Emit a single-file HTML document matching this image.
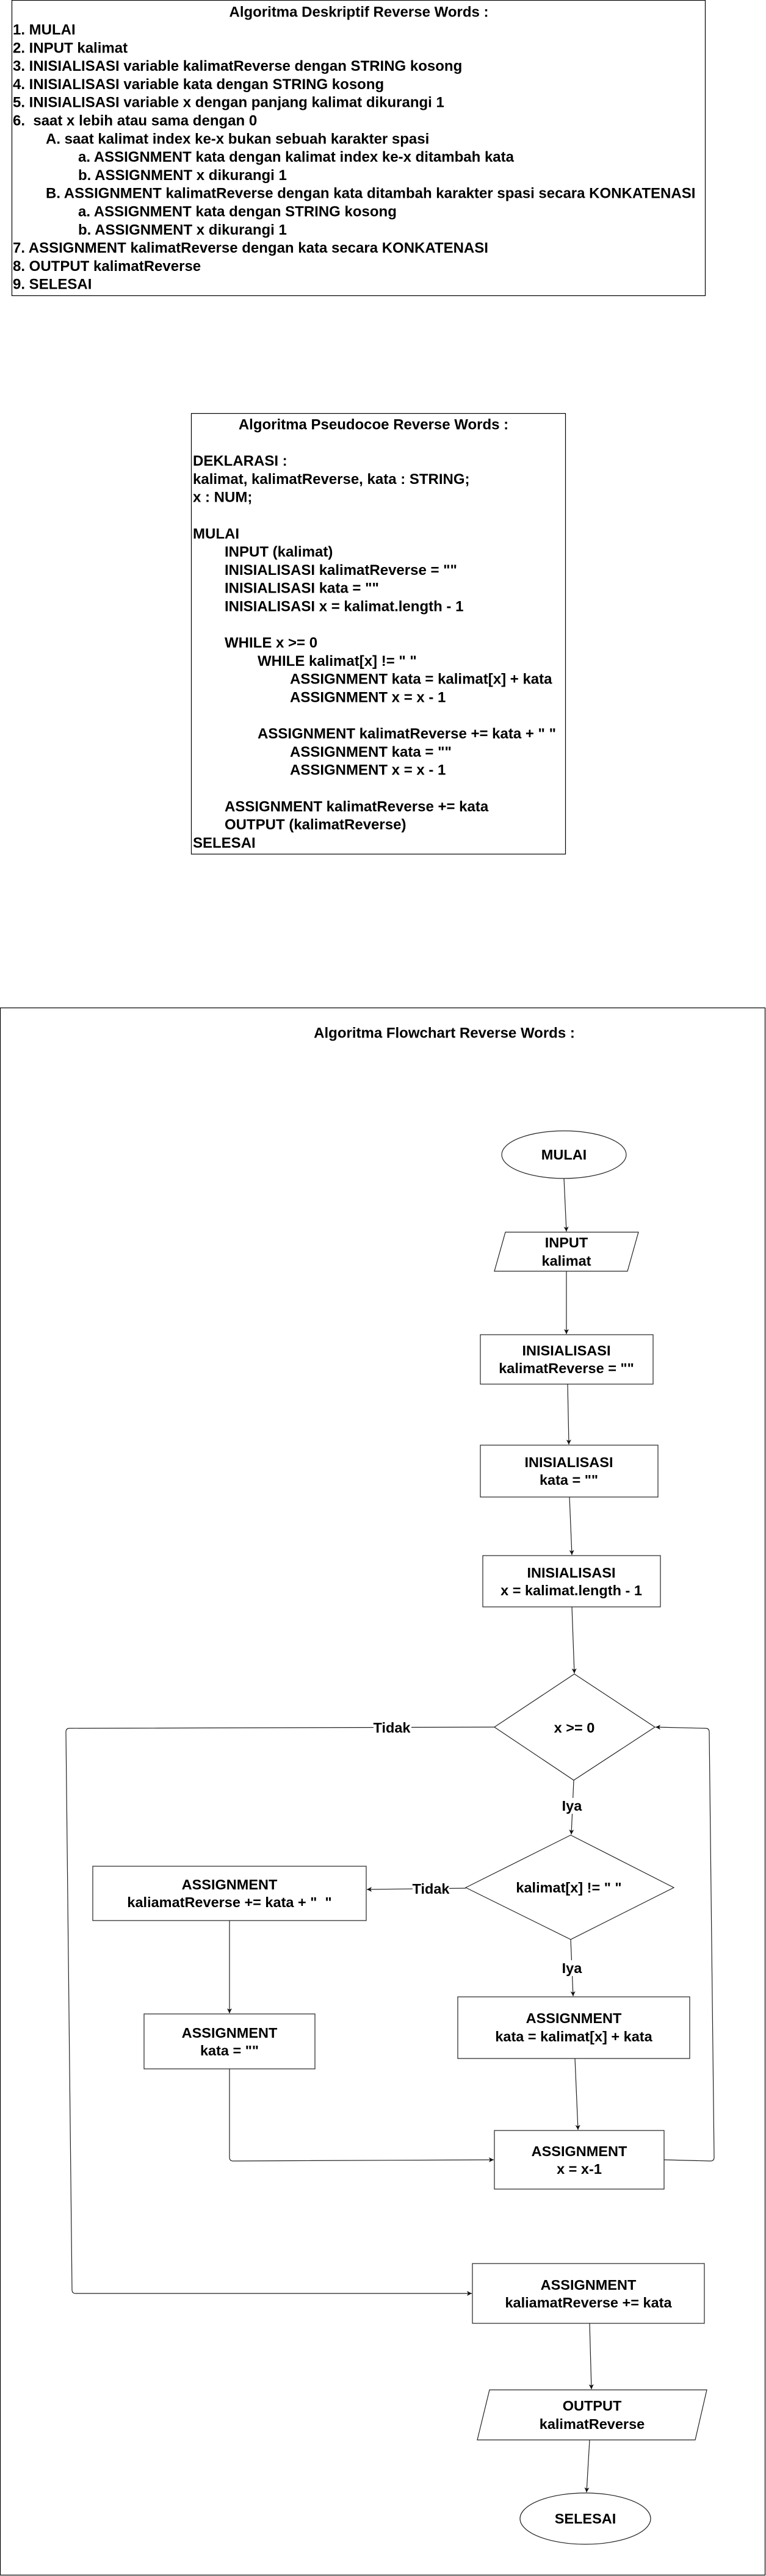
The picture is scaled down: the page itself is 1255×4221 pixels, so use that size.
<!DOCTYPE html>
<html><head><meta charset="utf-8"><style>
html,body{margin:0;padding:0;background:#fff}
svg{display:block}
text{font-family:"Liberation Sans",Arial,sans-serif;font-weight:bold;fill:#000}
</style></head><body>
<svg width="1255" height="4221" viewBox="0 0 1255 4221" xmlns="http://www.w3.org/2000/svg">
<defs>
<marker id="a" markerWidth="10" markerHeight="10" refX="9" refY="5" orient="auto" markerUnits="userSpaceOnUse">
<path d="M1,1 L9,5 L1,9 L3,5 Z" fill="#111"/>
</marker>
</defs>
<rect width="1255" height="4221" fill="#fff"/>

<!-- Descriptive box -->
<rect x="19.5" y="0.5" width="1136" height="484" fill="none" stroke="#000" stroke-width="1.2"/>
<g font-size="24">
<text x="588" y="20" text-anchor="middle" dominant-baseline="central">Algoritma Deskriptif Reverse Words :</text>
<text x="21" y="49" dominant-baseline="central">1. MULAI</text>
<text x="21" y="78.8" dominant-baseline="central">2. INPUT kalimat</text>
<text x="21" y="108.6" dominant-baseline="central">3. INISIALISASI variable kalimatReverse dengan STRING kosong</text>
<text x="21" y="138.4" dominant-baseline="central">4. INISIALISASI variable kata dengan STRING kosong</text>
<text x="21" y="168.2" dominant-baseline="central">5. INISIALISASI variable x dengan panjang kalimat dikurangi 1</text>
<text x="21" y="198" dominant-baseline="central" xml:space="preserve">6.  saat x lebih atau sama dengan 0</text>
<text x="75" y="227.8" dominant-baseline="central">A. saat kalimat index ke-x bukan sebuah karakter spasi</text>
<text x="128" y="257.6" dominant-baseline="central">a. ASSIGNMENT kata dengan kalimat index ke-x ditambah kata</text>
<text x="128" y="287.4" dominant-baseline="central">b. ASSIGNMENT x dikurangi 1</text>
<text x="75" y="317.2" dominant-baseline="central">B. ASSIGNMENT kalimatReverse dengan kata ditambah karakter spasi secara KONKATENASI</text>
<text x="128" y="347" dominant-baseline="central">a. ASSIGNMENT kata dengan STRING kosong</text>
<text x="128" y="376.8" dominant-baseline="central">b. ASSIGNMENT x dikurangi 1</text>
<text x="21" y="406.6" dominant-baseline="central">7. ASSIGNMENT kalimatReverse dengan kata secara KONKATENASI</text>
<text x="21" y="436.4" dominant-baseline="central">8. OUTPUT kalimatReverse</text>
<text x="21" y="466.2" dominant-baseline="central">9. SELESAI</text>
</g>

<!-- Pseudocode box -->
<rect x="313.5" y="677.5" width="613" height="722" fill="none" stroke="#000" stroke-width="1.2"/>
<g font-size="24">
<text x="612" y="696" text-anchor="middle" dominant-baseline="central">Algoritma Pseudocoe Reverse Words :</text>
<text x="316" y="755.6" dominant-baseline="central">DEKLARASI :</text>
<text x="316" y="785.4" dominant-baseline="central">kalimat, kalimatReverse, kata : STRING;</text>
<text x="316" y="815.2" dominant-baseline="central">x : NUM;</text>
<text x="316" y="874.8" dominant-baseline="central">MULAI</text>
<text x="368" y="904.6" dominant-baseline="central">INPUT (kalimat)</text>
<text x="368" y="934.4" dominant-baseline="central">INISIALISASI kalimatReverse = ""</text>
<text x="368" y="964.2" dominant-baseline="central">INISIALISASI kata = ""</text>
<text x="368" y="994" dominant-baseline="central">INISIALISASI x = kalimat.length - 1</text>
<text x="368" y="1053.6" dominant-baseline="central">WHILE x &gt;= 0</text>
<text x="422" y="1083.4" dominant-baseline="central">WHILE kalimat[x] != " "</text>
<text x="475" y="1113.2" dominant-baseline="central">ASSIGNMENT kata = kalimat[x] + kata</text>
<text x="475" y="1143" dominant-baseline="central">ASSIGNMENT x = x - 1</text>
<text x="422" y="1202.6" dominant-baseline="central">ASSIGNMENT kalimatReverse += kata + " "</text>
<text x="475" y="1232.4" dominant-baseline="central">ASSIGNMENT kata = ""</text>
<text x="475" y="1262.2" dominant-baseline="central">ASSIGNMENT x = x - 1</text>
<text x="368" y="1321.8" dominant-baseline="central">ASSIGNMENT kalimatReverse += kata</text>
<text x="368" y="1351.6" dominant-baseline="central">OUTPUT (kalimatReverse)</text>
<text x="316" y="1381.4" dominant-baseline="central">SELESAI</text>
</g>

<!-- Flowchart frame -->
<rect x="0.5" y="1651.5" width="1253" height="2568" fill="none" stroke="#000" stroke-width="1.2"/>
<text x="728" y="1693" font-size="24" text-anchor="middle" dominant-baseline="central">Algoritma Flowchart Reverse Words :</text>

<g fill="#fff" stroke="#222" stroke-width="1.2">
<ellipse cx="924" cy="1892" rx="102" ry="39"/>
<polygon points="828,2019 1046,2019 1028,2083 810,2083"/>
<rect x="787" y="2187" width="283" height="81"/>
<rect x="787" y="2368" width="291" height="85"/>
<rect x="791" y="2549" width="291" height="84"/>
<polygon points="941,2743 1073,2830 940,2917 810,2830"/>
<polygon points="935,3007 1104,3093 935,3178 763,3093"/>
<rect x="152" y="3058" width="448" height="89"/>
<rect x="236" y="3300" width="280" height="90"/>
<rect x="750" y="3272" width="380" height="101"/>
<rect x="810" y="3491" width="278" height="96"/>
<rect x="774" y="3709" width="380" height="98"/>
<polygon points="802,3916 1158,3916 1139,3998 782,3998"/>
<ellipse cx="959" cy="4127" rx="107" ry="42"/>
</g>

<g fill="none" stroke="#222" stroke-width="1.2">
<line x1="924" y1="1931" x2="928" y2="2018" marker-end="url(#a)"/>
<line x1="928" y1="2083" x2="928" y2="2186" marker-end="url(#a)"/>
<line x1="930" y1="2268" x2="932" y2="2367" marker-end="url(#a)"/>
<line x1="933" y1="2453" x2="937" y2="2548" marker-end="url(#a)"/>
<line x1="937" y1="2633" x2="941" y2="2742" marker-end="url(#a)"/>
<line x1="940" y1="2917" x2="936" y2="3006" marker-end="url(#a)"/>
<line x1="935" y1="3178" x2="939" y2="3271" marker-end="url(#a)"/>
<line x1="942" y1="3373" x2="947" y2="3490" marker-end="url(#a)"/>
<line x1="763" y1="3094" x2="601" y2="3096" marker-end="url(#a)"/>
<line x1="376" y1="3147" x2="376" y2="3299" marker-end="url(#a)"/>
<path d="M376,3390 L376,3535 Q376,3541 382,3541 L809,3539" marker-end="url(#a)"/>
<path d="M1088,3539 L1164,3541 Q1170,3541 1170,3535 L1162,2838 Q1162,2832 1156,2832 L1074,2830" marker-end="url(#a)"/>
<path d="M810,2830 L114,2832 Q108,2832 108,2838 L118,3752 Q118,3758 124,3758 L773,3758" marker-end="url(#a)"/>
<line x1="966" y1="3807" x2="969" y2="3915" marker-end="url(#a)"/>
<line x1="966" y1="3998" x2="961" y2="4084" marker-end="url(#a)"/>
</g>

<g font-size="23.5">
<rect x="612" y="2818" width="62" height="26" fill="#fff"/>
<text x="642" y="2831" text-anchor="middle" dominant-baseline="central">Tidak</text>
<rect x="676" y="3082" width="60" height="26" fill="#fff"/>
<text x="706" y="3095" text-anchor="middle" dominant-baseline="central">Tidak</text>
<rect x="918" y="2946" width="36" height="26" fill="#fff"/>
<text x="937" y="2959" text-anchor="middle" dominant-baseline="central">Iya</text>
<rect x="918" y="3212" width="36" height="26" fill="#fff"/>
<text x="937" y="3225" text-anchor="middle" dominant-baseline="central">Iya</text>

<text x="924" y="1892" text-anchor="middle" dominant-baseline="central">MULAI</text>
<text x="928" y="2036" text-anchor="middle" dominant-baseline="central">INPUT</text>
<text x="928" y="2066" text-anchor="middle" dominant-baseline="central">kalimat</text>
<text x="928" y="2213" text-anchor="middle" dominant-baseline="central">INISIALISASI</text>
<text x="928" y="2242" text-anchor="middle" dominant-baseline="central">kalimatReverse = ""</text>
<text x="932" y="2396" text-anchor="middle" dominant-baseline="central">INISIALISASI</text>
<text x="932" y="2425" text-anchor="middle" dominant-baseline="central">kata = ""</text>
<text x="936" y="2577" text-anchor="middle" dominant-baseline="central">INISIALISASI</text>
<text x="936" y="2606" text-anchor="middle" dominant-baseline="central">x = kalimat.length - 1</text>
<text x="941" y="2831" text-anchor="middle" dominant-baseline="central">x &gt;= 0</text>
<text x="932" y="3093" text-anchor="middle" dominant-baseline="central">kalimat[x] != " "</text>
<text x="376" y="3088" text-anchor="middle" dominant-baseline="central">ASSIGNMENT</text>
<text x="376" y="3117" text-anchor="middle" dominant-baseline="central" xml:space="preserve">kaliamatReverse += kata + "  "</text>
<text x="376" y="3331" text-anchor="middle" dominant-baseline="central">ASSIGNMENT</text>
<text x="376" y="3360" text-anchor="middle" dominant-baseline="central">kata = ""</text>
<text x="940" y="3307" text-anchor="middle" dominant-baseline="central">ASSIGNMENT</text>
<text x="940" y="3337" text-anchor="middle" dominant-baseline="central">kata = kalimat[x] + kata</text>
<text x="949" y="3525" text-anchor="middle" dominant-baseline="central">ASSIGNMENT</text>
<text x="949" y="3554" text-anchor="middle" dominant-baseline="central">x = x-1</text>
<text x="964" y="3744" text-anchor="middle" dominant-baseline="central">ASSIGNMENT</text>
<text x="964" y="3773" text-anchor="middle" dominant-baseline="central">kaliamatReverse += kata</text>
<text x="970" y="3942" text-anchor="middle" dominant-baseline="central">OUTPUT</text>
<text x="970" y="3972" text-anchor="middle" dominant-baseline="central">kalimatReverse</text>
<text x="959" y="4127" text-anchor="middle" dominant-baseline="central">SELESAI</text>
</g>
</svg>
</body></html>
